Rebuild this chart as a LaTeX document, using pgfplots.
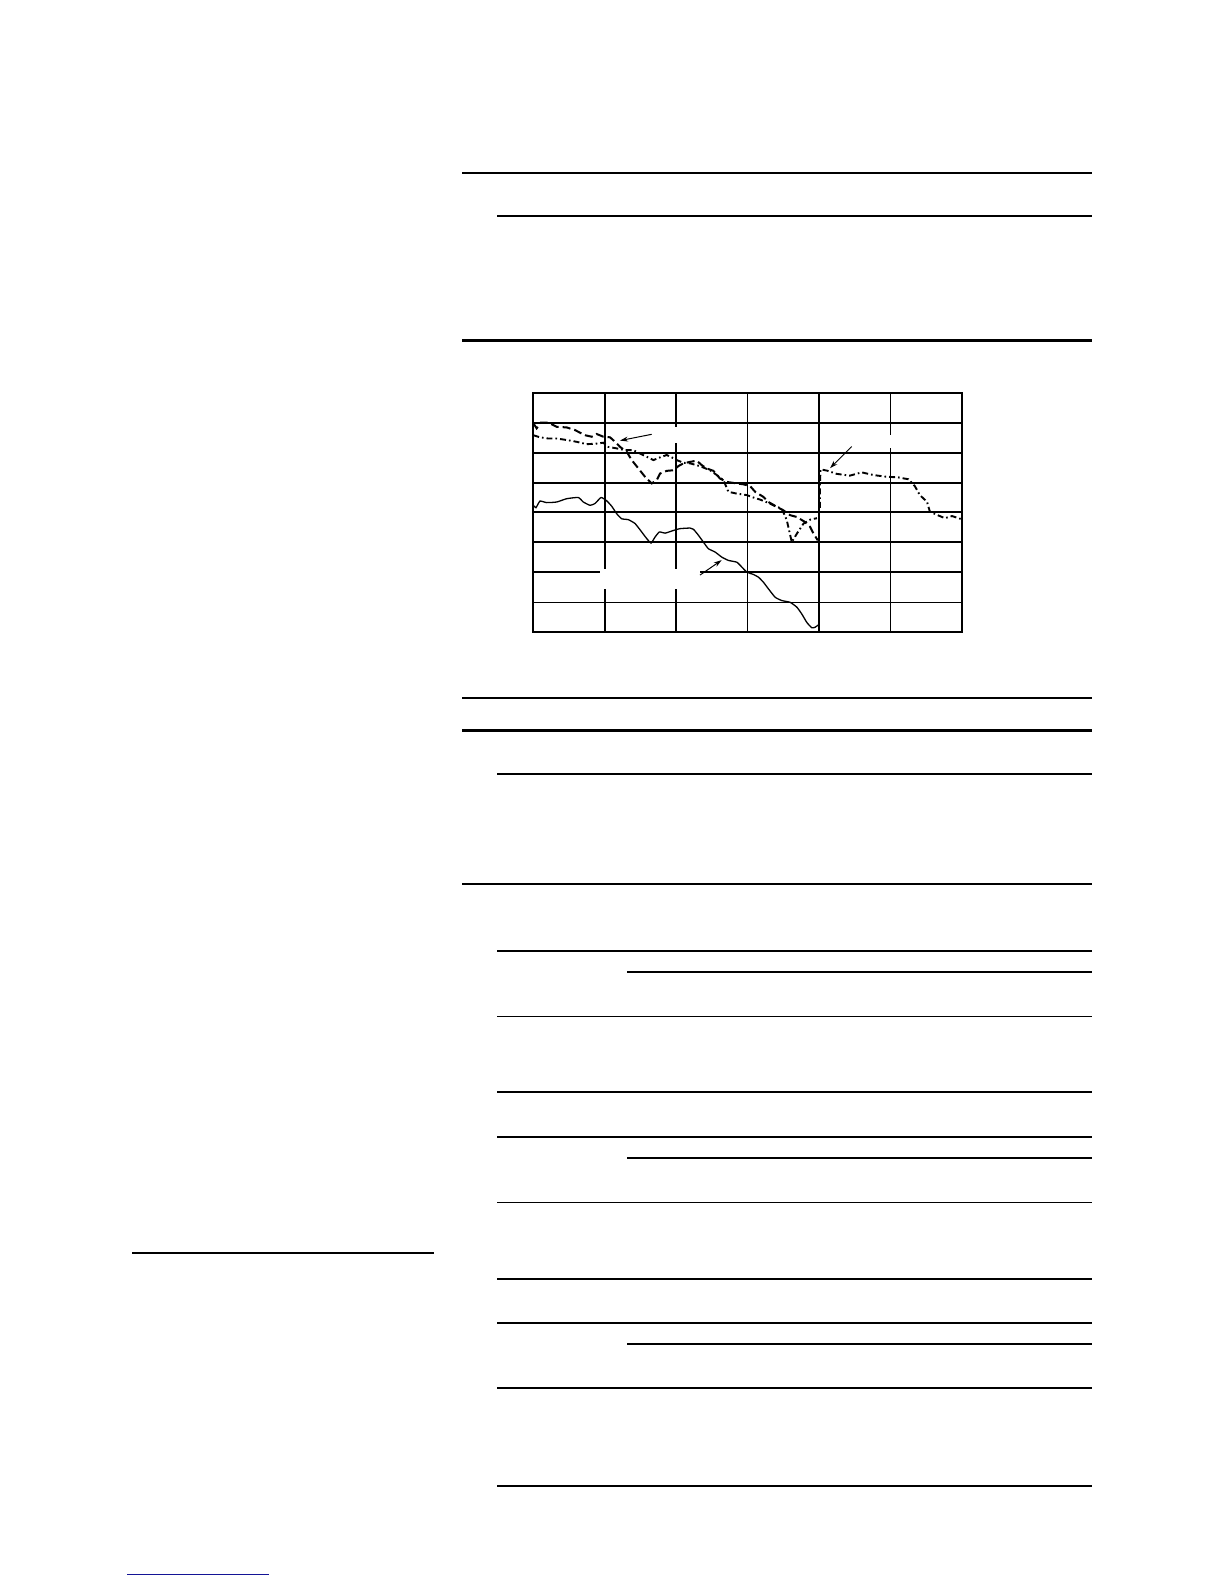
\documentclass[border=0pt]{standalone}
\usepackage{pgfplots}
\pgfplotsset{compat=1.18}
\usetikzlibrary{arrows.meta}

% page is 612pt x 792pt (letter); 1px of the image = 0.5pt
\begin{document}
\begin{tikzpicture}[x=1pt,y=1pt]
\path[use as bounding box, fill=white] (0,0) rectangle (612,792);

% table rules above the chart
\draw[line width=1.1pt] (231,705.6) -- (546,705.6);
\draw[line width=0.55pt] (248.5,684) -- (546,684);
\draw[line width=1.1pt] (231,621.75) -- (546,621.75);

% table rules below the chart
\draw[line width=1.1pt] (231,443) -- (546,443);
\draw[line width=1.1pt] (231,426.7) -- (546,426.7);
\draw[line width=0.55pt] (248.5,405) -- (546,405);
\draw[line width=1.1pt] (231,350) -- (546,350);
\foreach \y in {316.5,283.7,246,223.5,190.75,152.5,130.5,98,49}
  \draw[line width=0.55pt] (248.5,\y) -- (546,\y);
\foreach \y in {306,213,120}
  \draw[line width=0.55pt] (313.5,\y) -- (546,\y);

% footnote rule and link underline
\draw[line width=0.55pt] (66,165.5) -- (216.75,165.5);
\draw[line width=0.7pt, color={rgb,255:red,20;green,20;blue,150}] (63.5,4.7) -- (134.5,4.7);

\begin{axis}[
  at={(266.65pt,475.85pt)}, anchor=south west,
  width=214.35pt, height=119.8pt, scale only axis,
  xmin=0, xmax=6, ymin=0, ymax=8,
  ticks=none,
  axis line style={line width=1.1pt},
]
% grid
\pgfplotsinvokeforeach{1,2,4}{
  \draw[line width=1pt] (axis cs:#1,0) -- (axis cs:#1,8);
}
\pgfplotsinvokeforeach{3,5}{
  \draw[line width=0.6pt] (axis cs:#1,0) -- (axis cs:#1,8);
}
\pgfplotsinvokeforeach{2,3,4,5,6,7}{
  \draw[line width=1pt] (axis cs:0,#1) -- (axis cs:6,#1);
}
\draw[line width=0.6pt] (axis cs:0,1) -- (axis cs:6,1);
% gaps left where labels were
\fill[white] (axis cs:1.97,6.31) rectangle (axis cs:2.03,6.86);
\fill[white] (axis cs:4.97,6.16) rectangle (axis cs:5.03,6.59);
\fill[white] (axis cs:0.93,1.43) rectangle (axis cs:2.33,2.12);

% solid curve
\addplot[black, line width=0.65pt, smooth, tension=0.3] coordinates {
(0,4.24) (0.037,4.16) (0.093,4.38) (0.187,4.33) (0.327,4.35) (0.467,4.46)
(0.63,4.50) (0.70,4.35) (0.794,4.24) (0.864,4.30) (0.948,4.50) (1.027,4.39)
(1.097,4.21) (1.167,3.96) (1.237,3.79) (1.33,3.76) (1.424,3.63) (1.517,3.35)
(1.587,3.13) (1.648,2.98) (1.704,3.18) (1.765,3.35) (1.844,3.31) (1.961,3.40)
(2.054,3.46) (2.194,3.48) (2.241,3.44) (2.311,3.24) (2.381,3.01) (2.451,2.79)
(2.544,2.68) (2.638,2.51) (2.731,2.40) (2.848,2.34) (2.918,2.18) (2.988,2.01)
(3.081,1.93) (3.151,1.84) (3.221,1.67) (3.291,1.45) (3.385,1.17) (3.478,1.06)
(3.595,1.00) (3.688,0.84) (3.758,0.61) (3.828,0.33) (3.898,0.15) (3.945,0.17)
(3.992,0.25)
};

% dashed curve
\addplot[black, line width=1pt, dash pattern=on 4pt off 2pt] coordinates {
(0,6.98) (0.047,6.81) (0.103,7.00) (0.21,7.00) (0.327,6.86) (0.467,6.84)
(0.584,6.75) (0.724,6.58) (0.817,6.53) (0.887,6.62) (0.98,6.53) (1.074,6.51)
(1.144,6.36) (1.214,6.19) (1.307,6.03) (1.377,5.75) (1.471,5.47) (1.564,5.19)
(1.657,4.97) (1.727,5.08) (1.774,5.30) (1.867,5.39) (1.961,5.41) (2.031,5.55)
(2.101,5.64) (2.194,5.69) (2.288,5.73) (2.358,5.58) (2.428,5.47) (2.521,5.39)
(2.614,5.13) (2.708,5.02) (2.848,4.97) (2.941,4.94) (3.035,4.88) (3.105,4.69)
(3.221,4.52) (3.291,4.35) (3.408,4.19) (3.501,4.07) (3.595,3.91) (3.688,3.85)
(3.805,3.68) (3.875,3.52) (3.922,3.29) (3.982,3.07)
};

% dash-dot curve, first part
\addplot[black, line width=0.95pt, dash pattern=on 3pt off 1.5pt on 0.8pt off 1.5pt] coordinates {
(0,6.58) (0.093,6.51) (0.21,6.47) (0.327,6.47) (0.467,6.42) (0.607,6.36)
(0.747,6.28) (0.887,6.30) (0.98,6.33) (1.05,6.19) (1.167,6.14) (1.284,6.08)
(1.40,6.08) (1.494,5.97) (1.587,5.86) (1.681,5.75) (1.774,5.84) (1.867,5.92)
(1.937,5.84) (2.007,5.75) (2.101,5.66) (2.194,5.64) (2.288,5.58) (2.381,5.50)
(2.474,5.41) (2.568,5.25) (2.661,5.08) (2.731,4.69) (2.848,4.63) (2.988,4.58)
(3.081,4.50) (3.175,4.43) (3.291,4.32) (3.385,4.21) (3.478,4.13) (3.548,3.74)
(3.618,3.01) (3.688,3.29) (3.782,3.63) (3.875,3.76) (3.97,3.81)
};

% dash-dot curve, second part
\addplot[black, line width=0.95pt, dash pattern=on 3pt off 1.5pt on 0.8pt off 1.5pt] coordinates {
(4.01,4.15) (4.01,4.80) (4.02,5.44) (4.106,5.40) (4.246,5.29) (4.43,5.23)
(4.596,5.34) (4.76,5.25) (4.92,5.20) (5.11,5.17) (5.25,5.11) (5.34,4.88)
(5.41,4.58) (5.51,4.36) (5.55,4.03) (5.65,3.92) (5.76,3.81) (5.86,3.88)
(6.0,3.77)
};

% pointer arrows
\draw[line width=0.5pt, -{Stealth[length=4pt,width=2.5pt]}] (axis cs:1.657,6.61) -- (axis cs:1.213,6.40);
\draw[line width=0.5pt, -{Stealth[length=4pt,width=2.5pt]}] (axis cs:4.456,6.20) -- (axis cs:4.153,5.48);
\draw[line width=0.5pt, -{Stealth[length=4pt,width=2.5pt]}] (axis cs:2.333,1.91) -- (axis cs:2.637,2.41);
\end{axis}
\end{tikzpicture}
\end{document}
